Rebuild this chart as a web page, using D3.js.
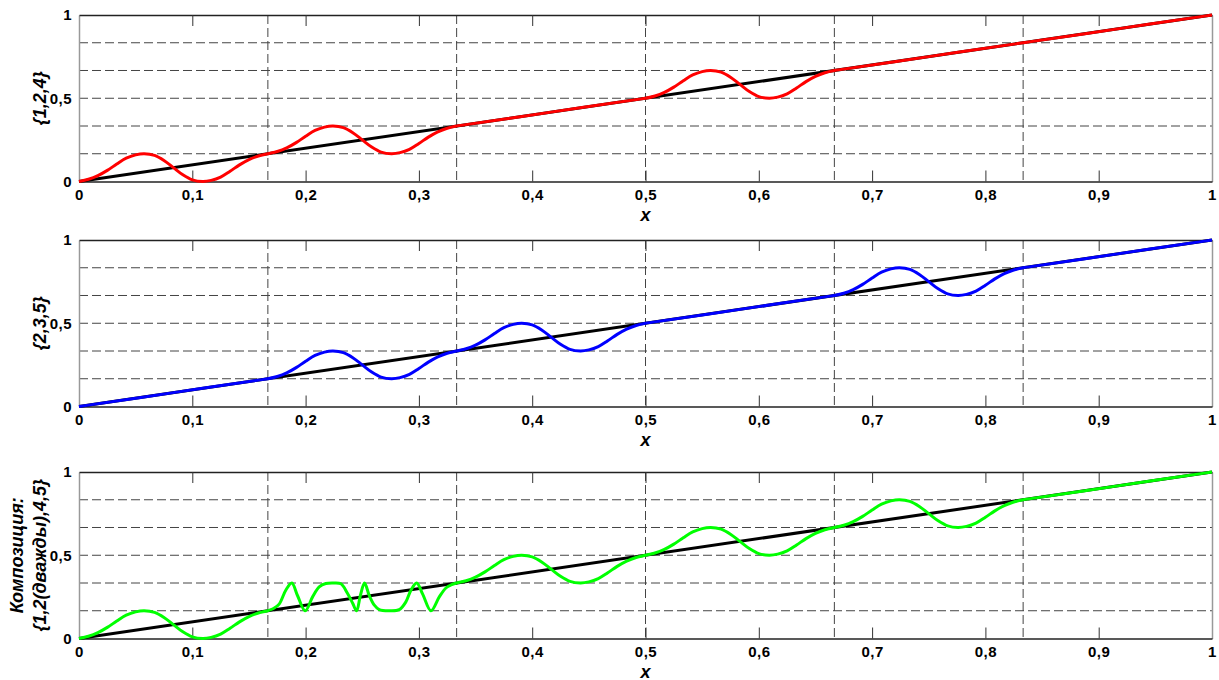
<!DOCTYPE html>
<html>
<head>
<meta charset="UTF-8" />
<title>Wiggles</title>
<style>
  body { margin: 0; background: #fff; }
  svg text { font-family: "Liberation Sans", Arial, sans-serif; }
  .tick text { font-size: 15px; font-weight: bold; fill: #000; letter-spacing: 0.5px; }
  .tick line { stroke: #333; }
  .axis-dark .domain { stroke: #222; stroke-width: 1.5px; }
  .axis-light .domain { stroke: #999; stroke-width: 1.5px; }
  .grid { stroke: #444; stroke-width: 1px; stroke-dasharray: 9,4; fill: none; }
  .diag { stroke: #000; stroke-width: 3px; fill: none; }
  .curve { stroke-width: 3px; fill: none; stroke-linejoin: round; }
  .xlabel { font-size: 18px; font-weight: bold; font-style: italic; }
  .ylabel { font-size: 18px; font-weight: bold; font-style: italic; }
</style>
<script src="https://d3js.org/d3.v7.min.js"></script>
</head>
<body>
<script>
// tick values and labels
var xTicks = [0, 0.1, 0.2, 0.3, 0.4, 0.5, 0.6, 0.7, 0.8, 0.9, 1];
var xTickLabels = ["0", "0,1", "0,2", "0,3", "0,4", "0,5", "0,6", "0,7", "0,8", "0,9", "1"];
var yTicks = [0, 0.5, 1];
var yTickLabels = ["0", "0,5", "1"];
var gridLevels = [0.1667, 0.3333, 0.5, 0.6667, 0.8333];

// panels
var panelNames = [["{1,2,4}"], ["{2,3,5}"], ["Композиция:", "{1,2(дважды),4,5}"]];
var panelColors = ["#ff0000", "#0000ff", "#00ff00"];
// per sixth: 0 = straight, 1 = one wiggle, 2 = wiggle applied twice
var panelModes = [
  [1, 1, 0, 1, 0, 0],
  [0, 1, 1, 0, 1, 0],
  [1, 2, 1, 1, 1, 0]
];

// straight piece inside one sixth (on the diagonal)
var straightT = [0, 0.04, 0.5, 0.96, 1];

// wiggle shape inside one sixth (position t, height h, both 0..1)
var wiggleT = [0, 0.05, 0.1, 0.15, 0.2, 0.25, 0.3, 0.345, 0.4, 0.45, 0.5, 0.55, 0.6, 0.655, 0.7, 0.75, 0.8, 0.85, 0.9, 0.95, 1];
var wiggleH = [0, 0.08, 0.21, 0.4, 0.63, 0.84, 0.96, 1, 0.94, 0.76, 0.5, 0.24, 0.06, 0, 0.04, 0.16, 0.37, 0.6, 0.79, 0.92, 1];

// the sixth where the wiggle is applied twice
var doubleT = [0, 0.03, 0.06, 0.095, 0.127, 0.157, 0.198, 0.237, 0.272, 0.307, 0.346, 0.387, 0.42, 0.45, 0.47, 0.49, 0.512, 0.537, 0.564, 0.59, 0.643, 0.696, 0.731, 0.758, 0.788, 0.82, 0.864, 0.908, 0.943, 0.97, 1];
var doubleH = [0, 0.08, 0.24, 0.74, 1, 0.55, 0, 0.5, 0.86, 0.98, 1, 0.97, 0.65, 0.26, 0, 0.55, 1, 0.55, 0.2, 0.04, 0, 0.04, 0.32, 0.74, 1, 0.6, 0, 0.5, 0.82, 0.93, 1];

var diagonal = [[0, 0], [1, 1]];

var width = 1219, height = 680;
var left = 79, right = 1212;
var panelTops = [15, 240, 472];
var panelH = 166.5;

var svg = d3.select("body").append("svg")
    .attr("width", width)
    .attr("height", height);

var x = d3.scaleLinear().domain([0, 1]).range([left, right]);

function buildPoints(modes) {
  var pts = [[0, 0]];
  modes.forEach(function(m, k) {
    var a = k / 6;
    var T = m == 0 ? straightT : (m == 1 ? wiggleT : doubleT);
    var H = m == 0 ? straightT : (m == 1 ? wiggleH : doubleH);
    for (var i = 1; i < T.length; i++) {
      pts.push([a + T[i] / 6, a + H[i] / 6]);
    }
  });
  return pts;
}

panelTops.forEach(function(top, p) {
  var y = d3.scaleLinear().domain([0, 1]).range([top + panelH, top]);
  var g = svg.append("g");

  // dashed grid
  g.selectAll(".gx").data(gridLevels).enter().append("line")
    .attr("class", "grid")
    .attr("x1", function(d) { return x(d); })
    .attr("x2", function(d) { return x(d); })
    .attr("y1", y(1))
    .attr("y2", y(0));
  g.selectAll(".gy").data(gridLevels).enter().append("line")
    .attr("class", "grid")
    .attr("x1", x(0))
    .attr("x2", x(1))
    .attr("y1", function(d) { return y(d); })
    .attr("y2", function(d) { return y(d); });

  // axes (ticks inward)
  g.append("g")
    .attr("class", "axis-light")
    .attr("transform", "translate(" + left + ",0)")
    .call(d3.axisLeft(y).tickValues(yTicks).tickSize(0).tickSizeOuter(0).tickPadding(7)
      .tickFormat(function(d, i) { return yTickLabels[i]; }));
  g.append("g")
    .attr("class", "axis-light")
    .attr("transform", "translate(" + right + ",0)")
    .call(d3.axisRight(y).tickValues(yTicks).tickSize(0).tickSizeOuter(0).tickFormat(""));
  g.append("g")
    .attr("class", "axis-dark")
    .attr("transform", "translate(0," + y(1) + ")")
    .call(d3.axisTop(x).tickValues(xTicks).tickSize(-11).tickSizeOuter(0).tickFormat(""));
  g.append("g")
    .attr("class", "axis-dark")
    .attr("transform", "translate(0," + y(0) + ")")
    .call(d3.axisBottom(x).tickValues(xTicks).tickSize(-11).tickSizeOuter(0).tickPadding(8)
      .tickFormat(function(d, i) { return xTickLabels[i]; }));

  // no ticks at the frame corners
  g.selectAll(".tick line").filter(function(d) { return d == 0 || d == 1; }).remove();

  var line = d3.line()
    .x(function(d) { return x(d[0]); })
    .y(function(d) { return y(d[1]); });

  g.append("path")
    .attr("class", "diag")
    .attr("d", line(diagonal));

  g.append("path")
    .attr("class", "curve")
    .attr("stroke", panelColors[p])
    .attr("d", line.curve(d3.curveCatmullRom.alpha(0.5))(buildPoints(panelModes[p])));

  // labels
  g.append("text")
    .attr("class", "xlabel")
    .attr("x", (left + right) / 2)
    .attr("y", y(0) + 39)
    .attr("text-anchor", "middle")
    .text("x");

  var names = panelNames[p];
  var cy = top + panelH / 2;
  names.forEach(function(t, i) {
    var cx = names.length == 1 ? 40 : (i == 0 ? 17 : 40);
    g.append("text")
      .attr("class", "ylabel")
      .attr("transform", "translate(" + cx + "," + cy + ") rotate(-90)")
      .attr("text-anchor", "middle")
      .attr("dy", "0.35em")
      .text(t);
  });
});
</script>
</body>
</html>
